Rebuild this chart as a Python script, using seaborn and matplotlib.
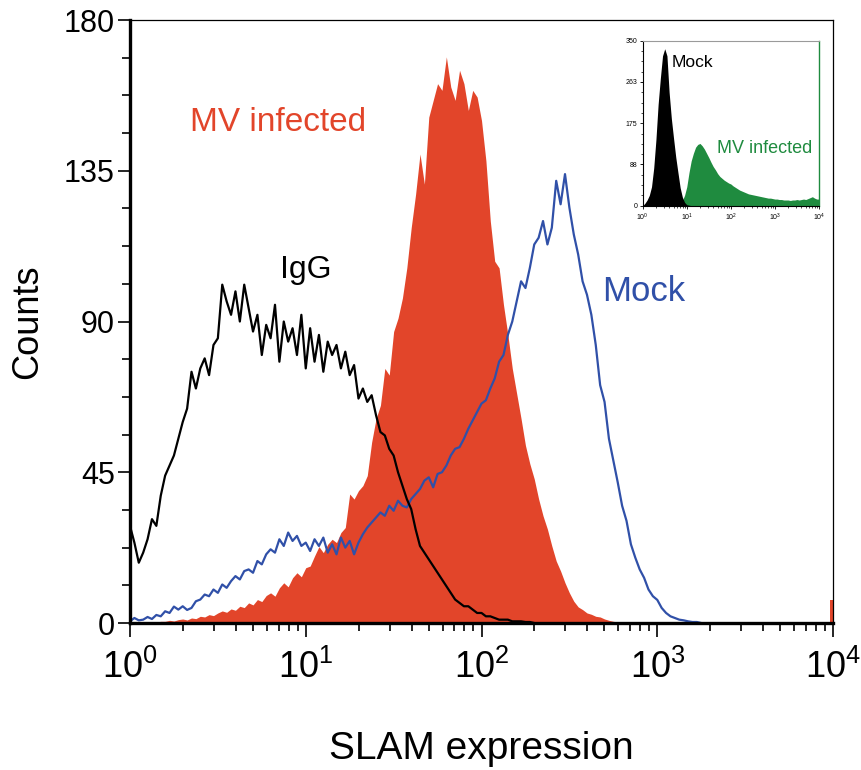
import numpy as np
import pandas as pd
import seaborn as sns
import matplotlib.pyplot as plt
from matplotlib.ticker import FixedLocator, MultipleLocator, LogLocator, NullFormatter

# --- data: counts per channel, channels every 0.025 decade (log10 of SLAM signal) ---
STEP = 0.025

igg_start = 0.0
igg_counts = [29, 24, 18, 21, 25, 31, 29, 38, 44, 47, 50, 55, 60, 64, 75, 70, 76, 79, 74, 83,
              85, 101, 96, 92, 99, 90, 101, 94, 87, 92, 80, 89, 85, 95, 78, 90, 84, 88, 80, 92,
              76, 88, 78, 86, 75, 84, 80, 83, 76, 81, 74, 77, 67, 70, 66, 68, 62, 57, 56, 52,
              50, 45, 41, 37, 34, 28, 23, 21, 19, 17, 15, 13, 11, 9, 7, 6, 5, 5, 4, 3,
              3, 2, 2, 1.5, 1, 1, 1, 0.5, 0.5, 0.5, 0.3, 0.3, 0]

mv_start = 0.1
mv_counts = [0, 0.3, 0.3, 0.5, 0.5, 0.8, 0.6, 1.0, 1.2, 0.9, 1.5, 1.3, 2.0, 1.8, 2.5, 2.2, 3.0, 3.6, 3.2, 4.2,
             3.8, 5.0, 4.6, 6.0, 5.4, 7.0, 6.4, 8.2, 9.0, 8.0, 10.5, 12.0, 10.8, 13.5, 15.0, 13.8, 16.5, 17.0, 20.0, 22.8,
             21.0, 23.5, 25.0, 24.0, 27.0, 28.5, 38.5, 37.0, 39.5, 41.0, 44.0, 54.0, 61.0, 65.0, 76.0, 74.0, 87.0, 91.0, 97.0, 106.0,
             118.0, 128.0, 140.0, 131.0, 151.0, 156.0, 161.0, 159.0, 169.0, 160.0, 156.0, 165.0, 161.0, 153.0, 159.0, 157.0, 150.0, 138.0, 120.0, 108.0,
             106.0, 95.0, 86.0, 76.0, 68.5, 61.0, 53.0, 47.5, 43.0, 37.0, 32.0, 28.0, 23.0, 18.5, 15.5, 12.0, 9.0, 6.5, 4.8, 4.0,
             3.0, 2.6, 2.0, 1.8, 1.2, 0.8, 0.5, 0.3, 0]
mv_pileup_log = [3.985, 4.0]   # last channel pile-up
mv_pileup_counts = [7, 7]

mock_start = 0.0
mock_counts = [0.5, 1.5, 0.8, 1.0, 1.8, 1.2, 2.4, 2.0, 3.5, 3.0, 4.9, 4.0, 5.0, 3.9, 4.5, 6.5, 7.0, 8.5, 8.0, 10.0,
               9.0, 11.5, 10.5, 12.5, 14.0, 13.0, 15.5, 16.0, 15.0, 18.5, 17.5, 20.5, 22.0, 21.0, 25.0, 23.0, 27.0, 24.5, 26.0, 23.0,
               24.0, 21.5, 25.0, 23.0, 25.5, 21.0, 23.5, 20.5, 25.5, 22.5, 24.5, 20.5, 24.0, 26.5, 28.5, 30.0, 31.5, 33.0, 32.0, 35.0,
               33.5, 36.5, 35.0, 34.5, 37.0, 38.5, 40.0, 42.5, 43.5, 40.5, 44.5, 45.0, 47.0, 50.0, 52.0, 52.5, 55.0, 58.0, 60.5, 63.0,
               65.5, 66.5, 70.0, 73.0, 78.0, 80.0, 86.0, 90.0, 96.0, 102.0, 100.0, 106.0, 113.0, 115.0, 120.0, 113.0, 118.0, 132.0, 125.0, 134.0,
               124.0, 116.0, 110.0, 102.0, 98.0, 92.0, 83.0, 71.0, 66.0, 55.0, 48.5, 42.0, 35.0, 30.5, 23.5, 19.5, 16.0, 13.5, 10.0, 8.0,
               6.9, 4.5, 3.0, 2.0, 1.5, 1.0, 0.8, 0.5, 0.3, 0.3, 0]

# inset (channels every 0.05 decade)
INSET_STEP = 0.05
inset_mock_start = 0.0
inset_mock_counts = [0, 5, 12, 22, 40, 80, 140, 215, 270, 318, 333, 318, 240, 185, 143, 103, 70, 38, 18, 7, 2, 1, 0]
inset_mv_start = 0.5
inset_mv_counts = [1, 2, 2, 3, 4, 5, 6, 8, 11, 22, 40, 70, 95, 111, 124, 130, 132, 127, 120, 111,
                   102, 92, 83, 76, 68, 62, 58, 54, 51, 48, 46, 42, 39, 36, 33, 31, 29, 27, 25, 24,
                   23, 22, 21, 20, 19, 18, 17, 16, 16, 15, 14, 14, 13, 13, 12, 12, 12, 11, 12, 12,
                   13, 12, 13, 14, 13, 15, 17, 19, 16, 14, 14]

y_ticks = [0, 45, 90, 135, 180]
inset_y_ticks = [0, 88, 175, 263, 350]

RED = "#E2452A"
BLUE = "#3050A8"
GREEN = "#1F8B3F"


def to_frame(start, counts, step):
    lg = start + step * np.arange(len(counts))
    return pd.DataFrame({"signal": 10 ** lg, "count": counts})


igg = to_frame(igg_start, igg_counts, STEP)
mv = to_frame(mv_start, mv_counts, STEP)
mock = to_frame(mock_start, mock_counts, STEP)
in_mock = to_frame(inset_mock_start, inset_mock_counts, INSET_STEP)
in_mv = to_frame(inset_mv_start, inset_mv_counts, INSET_STEP)

sns.set_style("ticks")
plt.rcParams["font.family"] = ["Liberation Sans", "DejaVu Sans"]
plt.rcParams["mathtext.fontset"] = "custom"
plt.rcParams["mathtext.rm"] = "Liberation Sans"
plt.rcParams["mathtext.it"] = "Liberation Sans"
for key in ["text.color", "axes.labelcolor", "xtick.color", "ytick.color", "axes.edgecolor"]:
    plt.rcParams[key] = "black"

fig = plt.figure(figsize=(8.62, 7.7), dpi=100)
ax = fig.add_axes([0.1508, 0.1909, 0.8156, 0.7831])

# MV infected: filled histogram
ax.fill_between(mv["signal"], mv["count"], color=RED, lw=0, zorder=1)
ax.fill_between(10 ** np.array(mv_pileup_log), mv_pileup_counts, color=RED, lw=0, zorder=1)
sns.lineplot(data=mock, x="signal", y="count", ax=ax, color=BLUE, lw=1.6, zorder=2)
sns.lineplot(data=igg, x="signal", y="count", ax=ax, color="black", lw=1.6, zorder=3)

ax.set_xscale("log")
ax.set_xlim(1, 1e4)
ax.set_ylim(0, 180)
ax.yaxis.set_major_locator(FixedLocator(y_ticks))
ax.yaxis.set_minor_locator(MultipleLocator(11.25))
ax.xaxis.set_minor_locator(LogLocator(base=10, subs=np.arange(2, 10)))
ax.xaxis.set_minor_formatter(NullFormatter())

ax.tick_params(axis="y", which="major", direction="out", length=9, width=1.2, labelsize=22, pad=2)
ax.tick_params(axis="y", which="minor", direction="out", length=6, width=1.2)
ax.tick_params(axis="x", which="major", direction="out", length=10, width=1.2, labelsize=26, pad=9)
ax.tick_params(axis="x", which="minor", direction="out", length=6, width=1.2)

for side in ["left", "bottom"]:
    ax.spines[side].set_linewidth(2.4)
for side in ["top", "right"]:
    ax.spines[side].set_linewidth(0.9)
    ax.spines[side].set_visible(True)

ax.set_xlabel("SLAM expression", fontsize=28, labelpad=33)
ax.set_ylabel("Counts", fontsize=26, labelpad=13)

ax.text(0.21, 0.83, "MV infected", transform=ax.transAxes, color=RED, fontsize=24,
        ha="center", va="center")
ax.text(0.25, 0.585, "IgG", transform=ax.transAxes, color="black", fontsize=23,
        ha="center", va="center")
ax.text(0.73, 0.55, "Mock", transform=ax.transAxes, color=BLUE, fontsize=25,
        ha="center", va="center")

# inset
iax = fig.add_axes([0.7456, 0.7329, 0.2045, 0.2142])
iax.fill_between(in_mv["signal"], in_mv["count"], color=GREEN, lw=0, zorder=1)
iax.fill_between(in_mock["signal"], in_mock["count"], color="black", lw=0, zorder=2)
iax.set_xscale("log")
iax.set_xlim(1, 1e4)
iax.set_ylim(0, 350)
iax.yaxis.set_major_locator(FixedLocator(inset_y_ticks))
iax.yaxis.set_minor_locator(MultipleLocator(350 / 16))
iax.xaxis.set_minor_locator(LogLocator(base=10, subs=np.arange(2, 10)))
iax.xaxis.set_minor_formatter(NullFormatter())
iax.tick_params(axis="both", which="major", direction="out", length=2.5, width=0.6,
                labelsize=5, pad=1.5)
iax.tick_params(axis="both", which="minor", direction="out", length=1.5, width=0.5)
iax.spines["left"].set_linewidth(0.8)
iax.spines["bottom"].set_linewidth(0.8)
iax.spines["top"].set_color("#9a9a9a")
iax.spines["top"].set_linewidth(0.8)
iax.spines["right"].set_color(GREEN)
iax.spines["right"].set_linewidth(1.0)
iax.text(0.165, 0.87, "Mock", transform=iax.transAxes, fontsize=12.5, ha="left", va="center")
iax.text(0.69, 0.345, "MV infected", transform=iax.transAxes, fontsize=13, color=GREEN,
         ha="center", va="center")
iax.set_xlabel("")
iax.set_ylabel("")

fig.savefig("out.png", dpi=100)
